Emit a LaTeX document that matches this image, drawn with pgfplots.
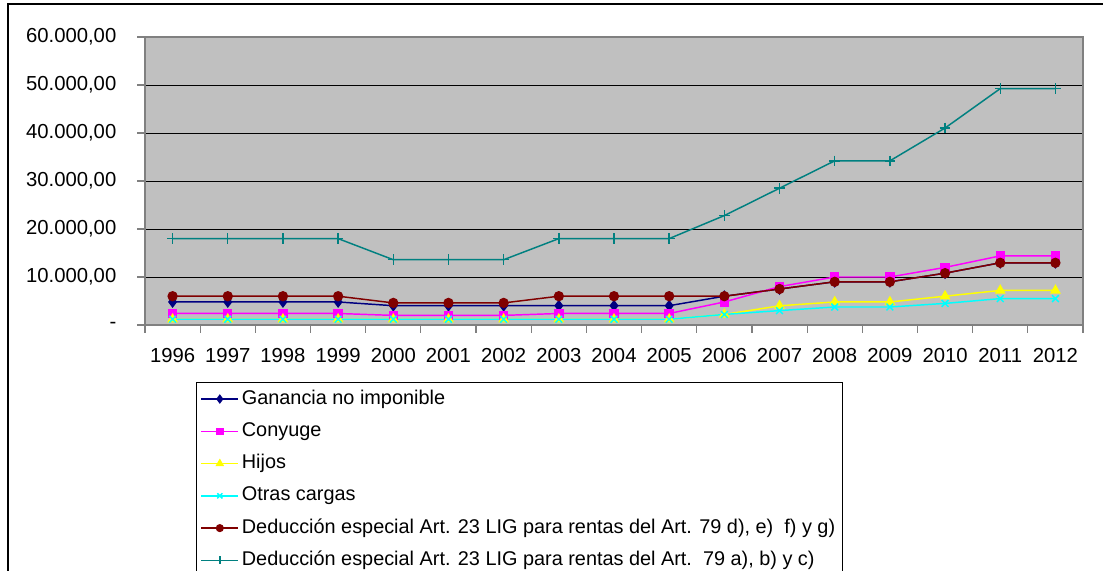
\documentclass[border=0pt]{standalone}
\usepackage{pgfplots}
\pgfplotsset{compat=1.18}
\usepackage{fontspec}
\setmainfont{Liberation Sans}

\definecolor{plotbg}{RGB}{192,192,192}
\definecolor{boxgray}{RGB}{128,128,128}
\definecolor{cNavy}{RGB}{0,0,128}
\definecolor{cMagenta}{RGB}{255,0,255}
\definecolor{cYellow}{RGB}{255,255,0}
\definecolor{cCyan}{RGB}{0,255,255}
\definecolor{cDarkRed}{RGB}{128,0,0}
\definecolor{cTeal}{RGB}{0,128,128}

\begin{document}
\begin{tikzpicture}[font=\fontsize{15.2pt}{18pt}\selectfont]
\useasboundingbox (0pt,0pt) rectangle (827.25pt,428.25pt);
% outer chart frame (left and top edges)
\draw[line width=0.9pt] (6pt,-10pt) -- (6pt,425.25pt) -- (840pt,425.25pt);
\begin{axis}[
  at={(108.75pt,184.5pt)}, anchor=south west,
  scale only axis, width=703.5pt, height=216pt,
  xmin=-0.5, xmax=16.5, ymin=0, ymax=60000,
  axis background/.style={fill=plotbg},
  axis line style={draw=boxgray, line width=1.2pt},
  xtick={0,...,16},
  xticklabels={1996,1997,1998,1999,2000,2001,2002,2003,2004,2005,2006,2007,2008,2009,2010,2011,2012},
  major x tick style={draw=none},
  minor xtick={-0.5,0.5,...,16.5},
  minor x tick style={draw=boxgray, line width=0.9pt},
  minor tick length=6pt,
  xtick pos=bottom,
  xticklabel style={yshift=-8pt},
  scaled y ticks=false,
  ytick={0,10000,...,60000},
  yticklabels={{-},{10.000,00},{20.000,00},{30.000,00},{40.000,00},{50.000,00},{60.000,00}},
  ytick pos=left,
  major tick length=6pt,
  tick align=outside,
  tick style={boxgray, line width=0.9pt},
  yticklabel style={xshift=-12pt},
  ymajorgrids,
  major grid style={black, line width=0.75pt},
  every axis plot/.append style={line width=1.1pt},
  legend cell align=left,
  legend style={
    at={(0.0544,-0.199)}, anchor=north west,
    draw=black, line width=0.6pt, fill=white,
    font=\fontsize{14.9pt}{18pt}\selectfont,
    row sep=5.7pt, inner xsep=3pt, inner ysep=3pt,
    nodes={text height=11pt, text depth=3.5pt, inner sep=2pt},
  },
  legend image code/.code={
    \draw[mark repeat=2,mark phase=2,#1,every mark/.append style={scale=0.75}]
      plot coordinates {(0pt,0pt) (14pt,0pt) (28pt,0pt)};
  },
]
% Ganancia no imponible
\addplot[color=cNavy, mark=diamond*, mark size=3.6pt, mark options={fill=cNavy}] coordinates {
  (0,4800) (1,4800) (2,4800) (3,4800) (4,4020) (5,4020) (6,4020) (7,4020) (8,4020)
  (9,4020) (10,6000) (11,7500) (12,9000) (13,9000) (14,10800) (15,12960) (16,12960)};
\addlegendentry{Ganancia no imponible}
% Conyuge
\addplot[color=cMagenta, mark=square*, mark size=3pt, mark options={fill=cMagenta}] coordinates {
  (0,2400) (1,2400) (2,2400) (3,2400) (4,2000) (5,2000) (6,2000) (7,2400) (8,2400)
  (9,2400) (10,4800) (11,8000) (12,10000) (13,10000) (14,12000) (15,14400) (16,14400)};
\addlegendentry{Conyuge}
% Hijos
\addplot[color=cYellow, mark=triangle*, mark size=3.6pt, mark options={fill=cYellow}] coordinates {
  (0,1200) (1,1200) (2,1200) (3,1200) (4,1200) (5,1200) (6,1200) (7,1200) (8,1200)
  (9,1200) (10,2200) (11,4000) (12,4800) (13,4800) (14,6000) (15,7200) (16,7200)};
\addlegendentry{Hijos}
% Otras cargas
\addplot[color=cCyan, mark=x, mark size=3.6pt, mark options={line width=1.1pt}] coordinates {
  (0,1200) (1,1200) (2,1200) (3,1200) (4,1200) (5,1200) (6,1200) (7,1200) (8,1200)
  (9,1200) (10,2200) (11,3000) (12,3750) (13,3750) (14,4500) (15,5500) (16,5500)};
\addlegendentry{Otras cargas}
% Deduccion especial d) e) f) g)
\addplot[color=cDarkRed, mark=*, mark size=3.3pt, mark options={fill=cDarkRed}] coordinates {
  (0,6000) (1,6000) (2,6000) (3,6000) (4,4600) (5,4600) (6,4600) (7,6000) (8,6000)
  (9,6000) (10,6000) (11,7500) (12,9000) (13,9000) (14,10800) (15,12960) (16,12960)};
\addlegendentry{Deducción especial Art. 23 LIG para rentas del Art. 79 d), e)\ \ f) y g)}
% Deduccion especial a) b) c)
\addplot[color=cTeal, mark=+, mark size=4pt, mark options={line width=1.1pt}] coordinates {
  (0,18000) (1,18000) (2,18000) (3,18000) (4,13600) (5,13600) (6,13600) (7,18000) (8,18000)
  (9,18000) (10,22800) (11,28500) (12,34200) (13,34200) (14,41040) (15,49248) (16,49248)};
\addlegendentry{Deducción especial Art. 23 LIG para rentas del Art.\ \ 79 a), b) y c)}
\end{axis}
\end{tikzpicture}
\end{document}
